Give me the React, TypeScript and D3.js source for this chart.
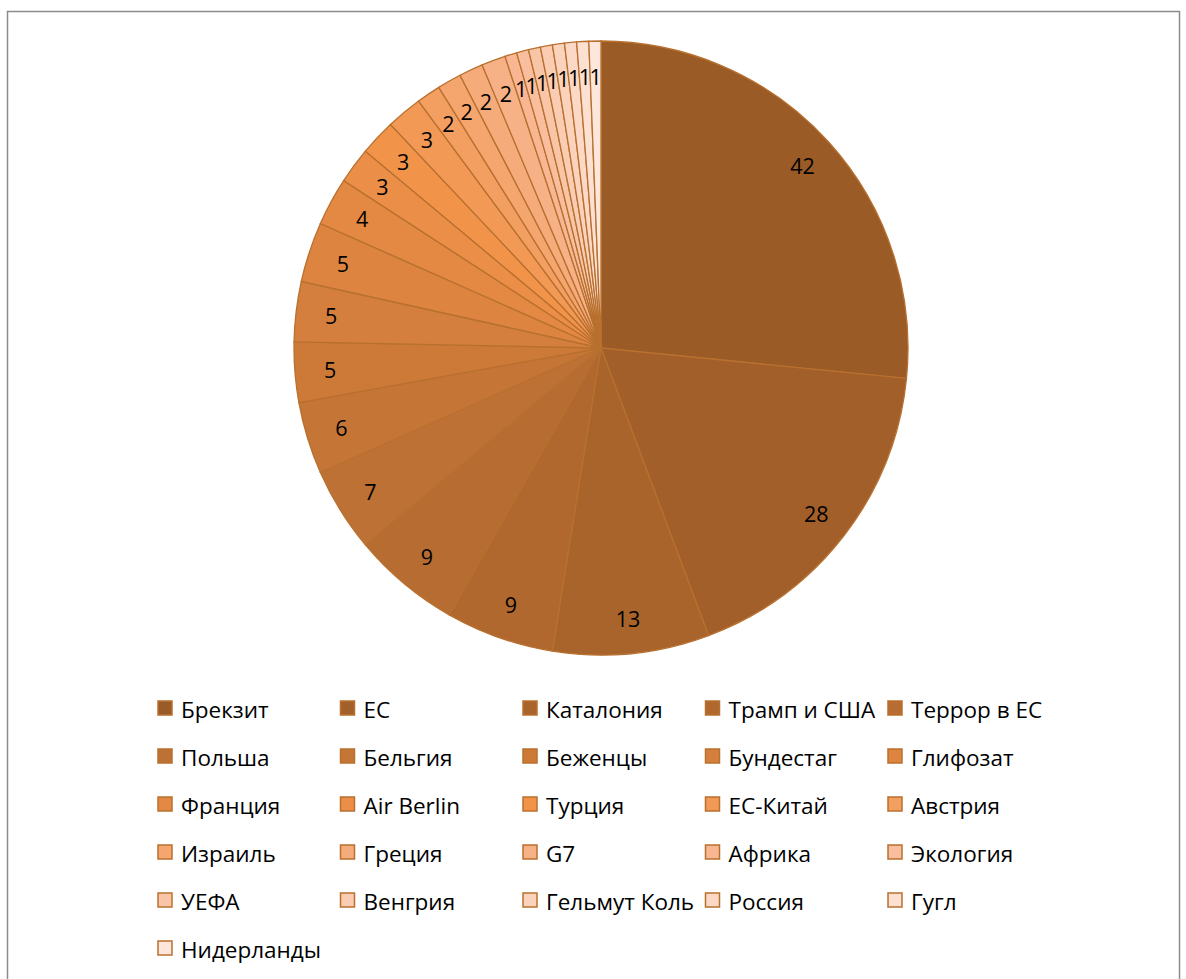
import React from "react";
import * as d3 from "d3";

const categories = [
  "Брекзит", "ЕС", "Каталония", "Трамп и США", "Террор в ЕС",
  "Польша", "Бельгия", "Беженцы", "Бундестаг", "Глифозат",
  "Франция", "Air Berlin", "Турция", "ЕС-Китай", "Австрия",
  "Израиль", "Греция", "G7", "Африка", "Экология",
  "УЕФА", "Венгрия", "Гельмут Коль", "Россия", "Гугл",
  "Нидерланды",
];
const values = [42, 28, 13, 9, 9, 7, 6, 5, 5, 5, 4, 3, 3, 3, 2, 2, 2, 2, 1, 1, 1, 1, 1, 1, 1, 1];

const W = 1186;
const H = 979;
const cx = 601;
const cy = 348;
const R = 307;

const colorScale = d3
  .scaleLinear<string>()
  .domain([0, 6, 12, 18, 25])
  .range(["#9B5B27", "#C57536", "#F2934A", "#F8B792", "#FDE7DC"])
  .interpolate(d3.interpolateRgb);

export default function App() {
  const pie = d3.pie<number>().sort(null).value((d) => d)(values);
  const arc = d3.arc<d3.PieArcDatum<number>>().innerRadius(0).outerRadius(R);
  const labelArc = d3.arc<d3.PieArcDatum<number>>().innerRadius(R * 0.885).outerRadius(R * 0.885);
  const font = "'Open Sans', 'Noto Sans', sans-serif";

  const legX = d3.scaleLinear().domain([0, 1]).range([158, 340.5]);
  const legY = d3.scaleLinear().domain([0, 1]).range([708, 756]);

  return (
    <svg
      width={W}
      height={H}
      style={{ position: "absolute", left: 0, top: 0, background: "#fff" }}
    >
      <rect x={7.5} y={11.5} width={1172} height={H} fill="#fff" stroke="#8C8C8C" strokeWidth={1.5} />
      <g transform={`translate(${cx},${cy})`}>
        {pie.map((d, i) => (
          <path key={i} d={arc(d) || ""} fill={colorScale(i)} stroke="#B8702F" strokeWidth={1.3} />
        ))}
        {pie.map((d, i) => {
          const [x, y] = labelArc.centroid(d);
          return (
            <text
              key={i}
              x={x}
              y={y}
              textAnchor="middle"
              dominantBaseline="central"
              fontFamily={font}
              fontSize={21.5}
              fill="#000"
            >
              {values[i]}
            </text>
          );
        })}
      </g>
      <g>
        {categories.map((c, i) => {
          const col = i % 5;
          const row = Math.floor(i / 5);
          const x = legX(col);
          const y = legY(row);
          return (
            <g key={c}>
              <rect x={x} y={y - 7} width={14} height={14} fill={colorScale(i)} stroke="#B8702F" strokeWidth={1.5} />
              <text x={x + 23} y={y + 1} dominantBaseline="central" fontFamily={font} fontSize={22.5} fill="#000">
                {c}
              </text>
            </g>
          );
        })}
      </g>
    </svg>
  );
}
